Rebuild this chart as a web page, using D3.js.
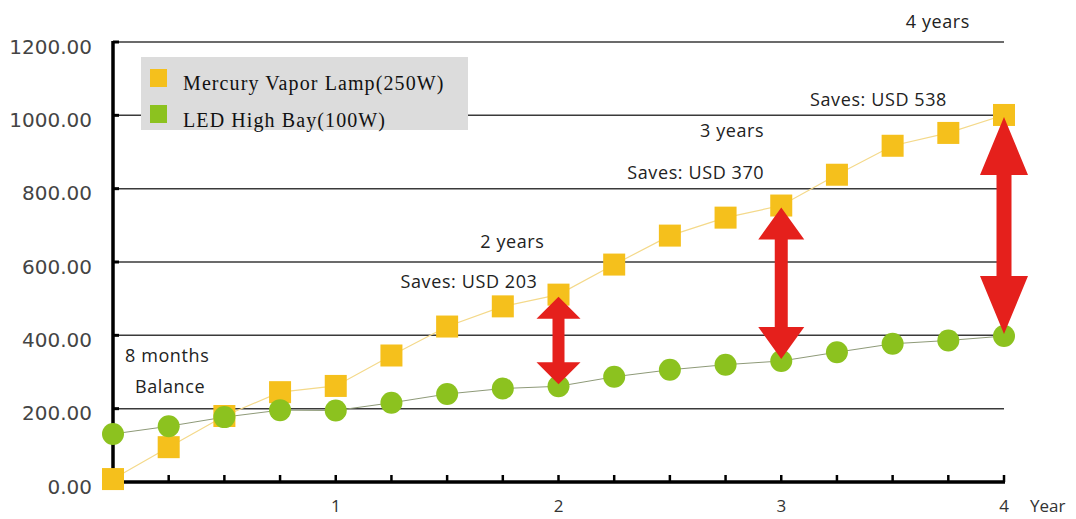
<!DOCTYPE html>
<html>
<head>
<meta charset="utf-8">
<script src="https://cdn.jsdelivr.net/npm/d3@7"></script>
<style>
  body { margin: 0; background: #fff; }
  svg { display: block; }
</style>
</head>
<body>
<div id="chart"></div>
<script>
// quarter-year steps from 0 to 4 years
const years = [0, 0.25, 0.5, 0.75, 1, 1.25, 1.5, 1.75, 2, 2.25, 2.5, 2.75, 3, 3.25, 3.5, 3.75, 4];
const mercury = [8, 95, 180, 245, 262, 345, 424, 479, 511, 593, 672, 721, 754, 838, 917, 952, 1001];
const led = [131, 152, 177, 196, 195, 216, 240, 255, 261, 287, 306, 320, 330, 354, 377, 386, 398];

const seriesNames = ["Mercury Vapor Lamp(250W)", "LED High Bay(100W)"];
const yTicks = [0, 200, 400, 600, 800, 1000, 1200];
const xTickLabels = [1, 2, 3, 4];

// years where the savings arrows are drawn
const arrowYears = [2, 3, 4];

const notes = [
  { text: "4 years", x: 4, y: 1238, anchor: "end", dx: -34 },
  { text: "Saves: USD 538", x: 4, y: 1025, anchor: "end", dx: -57 },
  { text: "3 years", x: 3, y: 941, anchor: "end", dx: -17 },
  { text: "Saves: USD 370", x: 3, y: 826, anchor: "end", dx: -17 },
  { text: "2 years", x: 2, y: 638, anchor: "end", dx: -14 },
  { text: "Saves: USD 203", x: 2, y: 529, anchor: "end", dx: -21 },
  { text: "8 months", x: 0, y: 327, anchor: "start", dx: 12 },
  { text: "Balance", x: 0, y: 243, anchor: "start", dx: 22 },
];

const width = 1076;
const height = 519;

const yellow = "#f5c01c";
const green = "#8cc21f";
const red = "#e5201c";

const svg = d3.select("#chart").append("svg")
  .attr("width", width)
  .attr("height", height);

const x = d3.scaleLinear().domain([0, 4]).range([113, 1004]);
const y = d3.scaleLinear().domain([0, 1200]).range([482, 42]);

// ---------
// GRIDLINES
// ---------
svg.append("g")
  .selectAll("line")
  .data(yTicks.filter((d) => d > 0))
  .enter()
  .append("line")
  .attr("x1", x(0))
  .attr("x2", x(4))
  .attr("y1", (d) => y(d))
  .attr("y2", (d) => y(d))
  .attr("stroke", "#3a3a3a")
  .attr("stroke-width", 1.5);

// ------
// Y AXIS
// ------
const yAxis = svg.append("g")
  .attr("transform", `translate(${x(0)},0)`)
  .call(d3.axisLeft(y).tickValues(yTicks).tickFormat(d3.format(".2f")).tickSize(0).tickPadding(21));
yAxis.select(".domain").remove();
yAxis.selectAll("text")
  .attr("font-family", "DejaVu Sans")
  .attr("font-size", 20)
  .attr("dy", "0.55em")
  .attr("fill", "#444");

svg.append("line")
  .attr("x1", x(0)).attr("x2", x(0))
  .attr("y1", y(1200) - 1).attr("y2", y(0) + 1.5)
  .attr("stroke", "#000")
  .attr("stroke-width", 3.5);

svg.append("g")
  .selectAll("line")
  .data(yTicks.filter((d) => d > 0))
  .enter()
  .append("line")
  .attr("x1", x(0)).attr("x2", x(0) + 6)
  .attr("y1", (d) => y(d)).attr("y2", (d) => y(d))
  .attr("stroke", "#000")
  .attr("stroke-width", 3);

// ------
// X AXIS
// ------
svg.append("line")
  .attr("x1", x(0)).attr("x2", x(4) + 1)
  .attr("y1", y(0)).attr("y2", y(0))
  .attr("stroke", "#000")
  .attr("stroke-width", 3.5);

svg.append("g")
  .selectAll("line")
  .data(years.slice(1))
  .enter()
  .append("line")
  .attr("x1", (d) => x(d)).attr("x2", (d) => x(d))
  .attr("y1", y(0)).attr("y2", y(0) - 7)
  .attr("stroke", "#000")
  .attr("stroke-width", 2.5);

svg.append("g")
  .selectAll("text")
  .data(xTickLabels)
  .enter()
  .append("text")
  .attr("x", (d) => x(d))
  .attr("y", 512)
  .attr("text-anchor", "middle")
  .attr("font-family", "Open Sans")
  .attr("font-size", 17)
  .attr("fill", "#333")
  .text((d) => d);

svg.append("text")
  .attr("x", 1030)
  .attr("y", 512)
  .attr("font-family", "Open Sans")
  .attr("font-size", 17)
  .attr("fill", "#333")
  .text("Year");

// -----
// LINES
// -----
const line = d3.line()
  .x((d, i) => x(years[i]))
  .y((d) => y(d));

svg.append("path")
  .datum(mercury)
  .attr("fill", "none")
  .attr("stroke", "#f4d98a")
  .attr("stroke-width", 1.2)
  .attr("d", line);

svg.append("path")
  .datum(led)
  .attr("fill", "none")
  .attr("stroke", "#8e9a78")
  .attr("stroke-width", 1)
  .attr("d", line);

// -------
// MARKERS
// -------
const sq = 22;
svg.append("g")
  .selectAll("rect")
  .data(mercury)
  .enter()
  .append("rect")
  .attr("x", (d, i) => x(years[i]) - sq / 2)
  .attr("y", (d) => y(d) - sq / 2)
  .attr("width", sq)
  .attr("height", sq)
  .attr("fill", yellow);

svg.append("g")
  .selectAll("circle")
  .data(led)
  .enter()
  .append("circle")
  .attr("cx", (d, i) => x(years[i]))
  .attr("cy", (d) => y(d))
  .attr("r", 11)
  .attr("fill", green);

// ------------
// SAVES ARROWS
// ------------
function arrowPath(cx, top, bottom, headW, headL, shaftW) {
  const hw = headW / 2;
  const sw = shaftW / 2;
  return [
    [cx, top], [cx + hw, top + headL], [cx + sw, top + headL],
    [cx + sw, bottom - headL], [cx + hw, bottom - headL], [cx, bottom],
    [cx - hw, bottom - headL], [cx - sw, bottom - headL], [cx - sw, top + headL],
    [cx - hw, top + headL],
  ].map((p) => p.join(",")).join(" ");
}

svg.append("g")
  .selectAll("polygon")
  .data(arrowYears)
  .enter()
  .append("polygon")
  .attr("fill", red)
  .attr("points", (d, i) => {
    const k = years.indexOf(d);
    const top = y(mercury[k]) + 2;
    const bottom = y(led[k]) - 2;
    const headL = [22, 32, 58][i];
    const headW = [44, 46, 48][i];
    const shaftW = [12, 13, 15][i];
    return arrowPath(x(d), top, bottom, headW, headL, shaftW);
  });

// ------
// LEGEND
// ------
const legend = svg.append("g");
legend.append("rect")
  .attr("x", 141).attr("y", 57)
  .attr("width", 327).attr("height", 73)
  .attr("fill", "#dcdcdc");

legend.selectAll("rect.key")
  .data(seriesNames)
  .enter()
  .append("rect")
  .attr("class", "key")
  .attr("x", 150)
  .attr("y", (d, i) => 69 + i * 36)
  .attr("width", 17)
  .attr("height", 18)
  .attr("fill", (d, i) => (i === 0 ? yellow : green));

legend.selectAll("text")
  .data(seriesNames)
  .enter()
  .append("text")
  .attr("x", 183)
  .attr("y", (d, i) => 90 + i * 37)
  .attr("font-family", "Liberation Serif")
  .attr("font-size", 20)
  .attr("letter-spacing", 1.1)
  .attr("fill", "#111")
  .text((d) => d);

// -----------
// ANNOTATIONS
// -----------
svg.append("g")
  .selectAll("text")
  .data(notes)
  .enter()
  .append("text")
  .attr("x", (d) => x(d.x) + d.dx)
  .attr("y", (d) => y(d.y))
  .attr("text-anchor", (d) => d.anchor)
  .attr("font-family", "Open Sans")
  .attr("font-size", 18)
  .attr("letter-spacing", 0.6)
  .attr("fill", "#222")
  .text((d) => d.text);
</script>
</body>
</html>
